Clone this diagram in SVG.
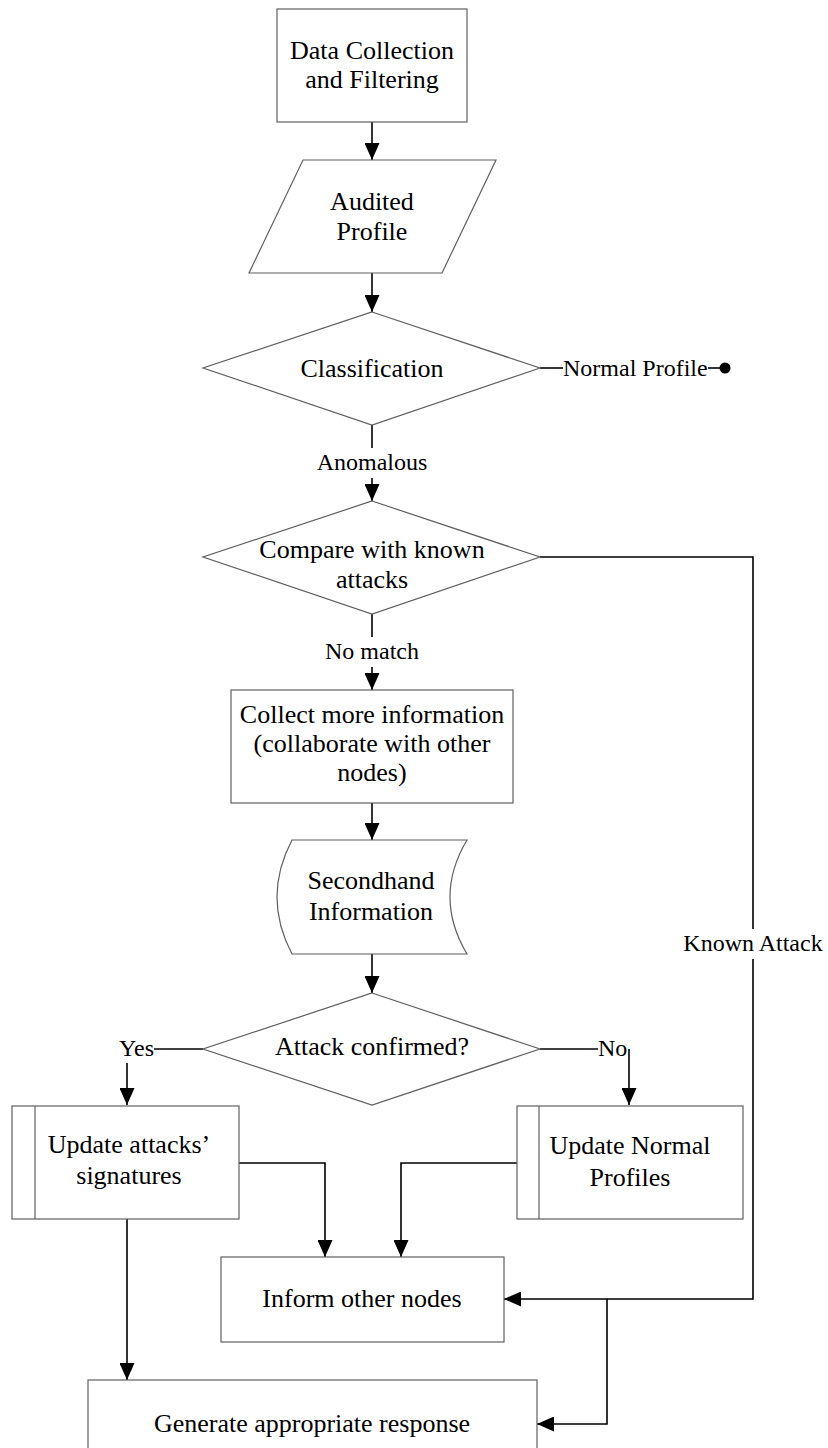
<svg xmlns="http://www.w3.org/2000/svg" width="828" height="1448" viewBox="0 0 828 1448">
  <style>
    .shape { fill: #ffffff; stroke: #5f5f5f; stroke-width: 1.2; }
    .conn { fill: none; stroke: #000000; stroke-width: 1.6; }
    .arrow { fill: none; stroke: #000000; stroke-width: 1.6; marker-end: url(#head); }
    .t { font-family: "Liberation Serif", "Times New Roman", serif; font-size: 26px; fill: #000000; text-anchor: middle; }
    .lbl { font-family: "Liberation Serif", "Times New Roman", serif; font-size: 24px; fill: #000000; }
  </style>
  <defs>
    <marker id="head" markerUnits="userSpaceOnUse" markerWidth="17" markerHeight="15" refX="17" refY="7.5" orient="auto">
      <path d="M0,0 L17,7.5 L0,15 Z" fill="#000000"/>
    </marker>
  </defs>
  <rect width="828" height="1448" fill="#ffffff"/>

  <!-- connectors -->
  <g id="connectors">
    <path class="arrow" d="M372,122 V160"/>
    <path class="arrow" d="M372,273 V312"/>
    <path class="conn" d="M372,425 V448"/>
    <path class="arrow" d="M372,478 V501"/>
    <path class="conn" d="M540,368 H563"/>
    <path class="conn" d="M708,368 H722"/>
    <circle cx="725" cy="368" r="5.5" fill="#000000"/>
    <path class="conn" d="M372,614 V637"/>
    <path class="arrow" d="M372,667 V690"/>
    <path class="conn" d="M540,557 H753 V929"/>
    <path class="arrow" d="M753,959 V1299 H504"/>
    <path class="arrow" d="M607,1299 V1424 H537"/>
    <path class="arrow" d="M372,803 V840"/>
    <path class="arrow" d="M372,954 V993"/>
    <path class="conn" d="M203,1049 H154"/>
    <path class="arrow" d="M127,1063 V1105"/>
    <path class="conn" d="M540,1049 H598"/>
    <path class="arrow" d="M629,1049 V1105"/>
    <path class="arrow" d="M239,1163 H325 V1257"/>
    <path class="arrow" d="M517,1163 H401 V1257"/>
    <path class="arrow" d="M127,1219 V1380"/>
    <text class="lbl" x="372" y="470" text-anchor="middle">Anomalous</text>
    <text class="lbl" x="372" y="659" text-anchor="middle">No match</text>
    <text class="lbl" x="563" y="376">Normal Profile</text>
    <text class="lbl" x="753" y="951" text-anchor="middle">Known Attack</text>
    <text class="lbl" x="154" y="1056" text-anchor="end">Yes</text>
    <text class="lbl" x="598" y="1056">No</text>
  </g>

  <g id="data-collection">
    <rect class="shape" x="277" y="9" width="190" height="113"/>
    <text class="t" x="372" y="59">Data Collection</text>
    <text class="t" x="372" y="88">and Filtering</text>
  </g>

  <g id="audited-profile">
    <polygon class="shape" points="303,160 496,160 442,273 249,273"/>
    <text class="t" x="372" y="210">Audited</text>
    <text class="t" x="372" y="240">Profile</text>
  </g>

  <g id="classification">
    <polygon class="shape" points="372,312 540,368 372,425 203,368"/>
    <text class="t" x="372" y="377">Classification</text>
  </g>

  <g id="compare-known">
    <polygon class="shape" points="372,501 540,557 372,614 203,557"/>
    <text class="t" x="372" y="558">Compare with known</text>
    <text class="t" x="372" y="588">attacks</text>
  </g>

  <g id="collect-info">
    <rect class="shape" x="231" y="690" width="282" height="113"/>
    <text class="t" x="372" y="723">Collect more information</text>
    <text class="t" x="372" y="752">(collaborate with other</text>
    <text class="t" x="372" y="781">nodes)</text>
  </g>

  <g id="secondhand-info">
    <path class="shape" d="M292,840 H467 Q433,897 467,954 H292 Q262,897 292,840 Z"/>
    <text class="t" x="371" y="889">Secondhand</text>
    <text class="t" x="371" y="920">Information</text>
  </g>

  <g id="attack-confirmed">
    <polygon class="shape" points="372,993 540,1049 372,1105 203,1049"/>
    <text class="t" x="372" y="1055">Attack confirmed?</text>
  </g>

  <g id="update-signatures">
    <rect class="shape" x="12" y="1106" width="227" height="113"/>
    <line class="shape" x1="35" y1="1106" x2="35" y2="1219"/>
    <text class="t" x="129" y="1153">Update attacks’</text>
    <text class="t" x="129" y="1184">signatures</text>
  </g>

  <g id="update-normal">
    <rect class="shape" x="517" y="1106" width="226" height="113"/>
    <line class="shape" x1="539" y1="1106" x2="539" y2="1219"/>
    <text class="t" x="630" y="1154">Update Normal</text>
    <text class="t" x="630" y="1186">Profiles</text>
  </g>

  <g id="inform-nodes">
    <rect class="shape" x="221" y="1257" width="283" height="85"/>
    <text class="t" x="362" y="1307">Inform other nodes</text>
  </g>

  <g id="generate-response">
    <rect class="shape" x="88" y="1380" width="449" height="90"/>
    <text class="t" x="312" y="1432">Generate appropriate response</text>
  </g>
</svg>
